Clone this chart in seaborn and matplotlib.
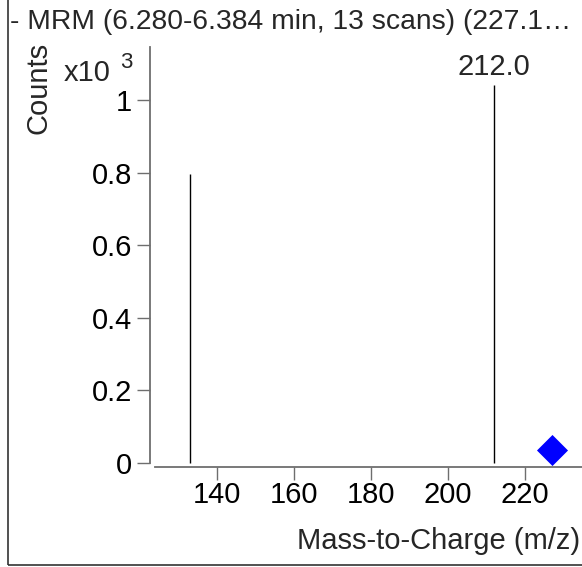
import matplotlib
matplotlib.use("Agg")
import matplotlib.pyplot as plt
import seaborn as sns
import pandas as pd
from matplotlib.patches import Rectangle

# ---- data ----
peak_mz = [133.1, 212.0]
peak_counts = [0.796, 1.041]          # x10^3
precursor_mz = [227.1]
precursor_counts = [0.036]
x_ticks = [140, 160, 180, 200, 220]
y_ticks = [0, 0.2, 0.4, 0.6, 0.8, 1.0]
y_tick_labels = ["0", "0.2", "0.4", "0.6", "0.8", "1"]
title_text = "- MRM (6.280-6.384 min, 13 scans) (227.1\u2026"
peak_label = "212.0"

sns.set_theme(style="white")
plt.rcParams["font.family"] = ["Liberation Sans", "DejaVu Sans"]

W, H = 582, 567
FS = 21
fig = plt.figure(figsize=(W / 100, H / 100), dpi=100)

# axes placement in pixels
ax_left, ax_right, ax_bottom_px = 150, 582, 467
ax = fig.add_axes([ax_left / W, (H - ax_bottom_px) / H, (ax_right - ax_left) / W, (ax_bottom_px - 40) / H])

gray = "#6e6e6e"
ax.vlines(peak_mz, 0, peak_counts, color="black", linewidth=1.0)
df_p = pd.DataFrame({"mz": precursor_mz, "counts": precursor_counts})
sns.scatterplot(data=df_p, x="mz", y="counts", marker="D", s=250, color="#0000ff",
                edgecolor="#0000ff", linewidth=0, ax=ax, clip_on=False, zorder=5)

px_per_unit_y = 363.0
ymin = -4 / px_per_unit_y
ymax = (ax_bottom_px - 40) / px_per_unit_y + ymin
ax.set_ylim(ymin, ymax)
px_per_unit_x = 3.85
xmin = 140 - (216.7 - ax_left) / px_per_unit_x
xmax = xmin + (ax_right - ax_left) / px_per_unit_x
ax.set_xlim(xmin, xmax)

ax.set_xticks(x_ticks)
ax.set_xticklabels([str(v) for v in x_ticks])
ax.set_yticks(y_ticks)
ax.set_yticklabels(y_tick_labels)
ax.set_xlabel("")
ax.set_ylabel("")

for s in ["top", "right"]:
    ax.spines[s].set_visible(False)
for s in ["left", "bottom"]:
    ax.spines[s].set_color(gray)
    ax.spines[s].set_linewidth(1.3)
ax.spines["left"].set_bounds(0, 1.146)
ax.spines["bottom"].set_bounds(124, xmax)

ax.tick_params(axis="both", which="major", direction="out", length=9.5, width=1.0,
               color=gray, labelcolor="black", labelsize=FS)
ax.tick_params(axis="x", pad=0.5)
ax.tick_params(axis="y", pad=3.5)
ax.xaxis.set_ticks_position("bottom")
ax.yaxis.set_ticks_position("left")

ax.annotate(peak_label, xy=(212.0, 1.041), xytext=(0, 3), textcoords="offset points",
            ha="center", va="bottom", fontsize=FS)

fig.text(10 / W, 1 - 22 / H, title_text, ha="left", va="center", fontsize=20.3)
fig.text(38 / W, 1 - 88 / H, "Counts", rotation=90, ha="center", va="center", fontsize=FS)
fig.text(64 / W, 1 - 73 / H, "x10", ha="left", va="center", fontsize=FS)
fig.text(120 / W, 1 - 63 / H, "3", ha="left", va="center", fontsize=16)
fig.text(580 / W, 1 - 541 / H, "Mass-to-Charge (m/z)", ha="right", va="center", fontsize=FS)

fig.patches.append(Rectangle((8 / W, (H - 565) / H), 1.2, 1.2, transform=fig.transFigure,
                             fill=False, edgecolor="#333333", linewidth=1.2, figure=fig))

fig.savefig("out.png", dpi=100)
